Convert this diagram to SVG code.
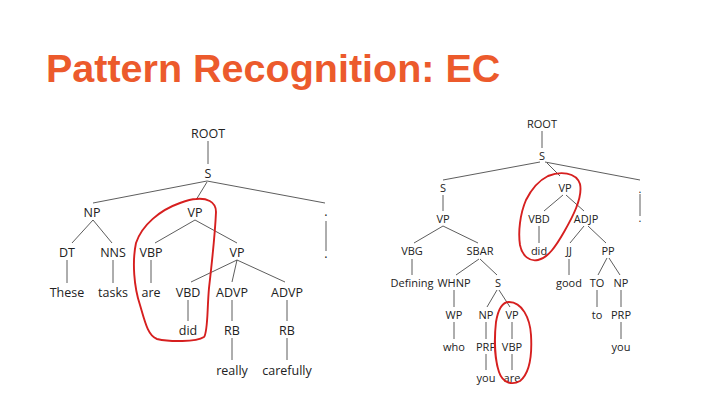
<svg xmlns="http://www.w3.org/2000/svg" width="720" height="405" viewBox="0 0 720 405">
<style>
.t{font-family:"Open Sans","Liberation Sans",sans-serif;font-size:12.5px;fill:#222;text-anchor:middle}
.r{font-family:"Open Sans","Liberation Sans",sans-serif;font-size:11px;fill:#222;text-anchor:middle}
.e line{stroke:#333;stroke-width:0.8}
.f{stroke:#bbb;stroke-width:0.8}
.loop{fill:none;stroke:#d61f1f;stroke-width:1.9;stroke-linejoin:round}
.title{font-family:"Liberation Sans",Arial,sans-serif;font-weight:bold;font-size:39.5px;fill:#ec5a2c}
</style>
<rect width="720" height="405" fill="#fff"/>
<text class="title" x="46" y="82">Pattern Recognition: EC</text>

<g id="connectors" class="e">
<!-- left tree -->
<line x1="208" y1="141" x2="208" y2="164"/>
<line x1="207" y1="181" x2="93" y2="203"/>
<line x1="207" y1="182" x2="196" y2="200"/>
<line x1="207" y1="181" x2="325" y2="203"/>
<line class="f" x1="326" y1="221" x2="326" y2="251"/>
<line x1="93" y1="220" x2="72" y2="243"/>
<line x1="93" y1="220" x2="112" y2="243"/>
<line x1="195" y1="220" x2="155" y2="243"/>
<line x1="195" y1="220" x2="237" y2="243"/>
<line x1="67" y1="260" x2="67" y2="283"/>
<line x1="113" y1="260" x2="113" y2="283"/>
<line x1="151" y1="260" x2="151" y2="283"/>
<line x1="237" y1="260" x2="191" y2="282"/>
<line x1="237" y1="260" x2="232" y2="282"/>
<line x1="237" y1="260" x2="285" y2="282"/>
<line x1="188" y1="300" x2="188" y2="321"/>
<line x1="232" y1="300" x2="232" y2="321"/>
<line x1="287" y1="300" x2="287" y2="321"/>
<line x1="232" y1="338" x2="232" y2="360"/>
<line x1="287" y1="338" x2="287" y2="360"/>
<!-- right tree -->
<line x1="542" y1="131" x2="542" y2="148"/>
<line x1="540" y1="162" x2="443" y2="180"/>
<line x1="547" y1="163" x2="560" y2="176"/>
<line x1="545" y1="162" x2="640" y2="180"/>
<line class="f" x1="640" y1="194" x2="640" y2="216"/>
<line x1="443" y1="195" x2="443" y2="211"/>
<line x1="443" y1="226" x2="414" y2="243"/>
<line x1="443" y1="226" x2="478" y2="243"/>
<line class="f" x1="412" y1="259" x2="412" y2="275"/>
<line x1="479" y1="259" x2="456" y2="275"/>
<line x1="480" y1="259" x2="497" y2="275"/>
<line x1="454" y1="290" x2="454" y2="307"/>
<line x1="454" y1="322" x2="454" y2="339"/>
<line x1="497" y1="290" x2="487" y2="307"/>
<line x1="499" y1="290" x2="510" y2="307"/>
<line class="f" x1="486" y1="322" x2="486" y2="339"/>
<line class="f" x1="486" y1="354" x2="486" y2="370"/>
<line x1="512" y1="322" x2="512" y2="339"/>
<line x1="512" y1="354" x2="512" y2="370"/>
<line x1="563" y1="195" x2="544" y2="211"/>
<line x1="566" y1="195" x2="584" y2="211"/>
<line x1="539" y1="226" x2="539" y2="243"/>
<line x1="584" y1="226" x2="570" y2="243"/>
<line x1="588" y1="226" x2="606" y2="243"/>
<line x1="569" y1="259" x2="569" y2="275"/>
<line x1="607" y1="258" x2="598" y2="275"/>
<line x1="609" y1="258" x2="620" y2="275"/>
<line class="f" x1="597" y1="290" x2="597" y2="307"/>
<line x1="621" y1="290" x2="621" y2="307"/>
<line x1="621" y1="322" x2="621" y2="339"/>
</g>

<g id="left-tree">
<g id="l-root"><text class="t" x="208" y="137.5">ROOT</text></g>
<g id="l-s"><text class="t" x="208" y="177.5">S</text></g>
<g id="l-np"><text class="t" x="92" y="216.5">NP</text></g>
<g id="l-vp"><text class="t" x="195" y="216.5">VP</text></g>
<g id="l-dot1"><text class="t" x="326" y="216">.</text></g>
<g id="l-dot2"><text class="t" x="326" y="258">.</text></g>
<g id="l-dt"><text class="t" x="67" y="256.5">DT</text></g>
<g id="l-nns"><text class="t" x="113" y="256.5">NNS</text></g>
<g id="l-vbp"><text class="t" x="151" y="256.5">VBP</text></g>
<g id="l-vp2"><text class="t" x="237" y="256.5">VP</text></g>
<g id="l-these"><text class="t" x="67" y="296.5">These</text></g>
<g id="l-tasks"><text class="t" x="113" y="296.5">tasks</text></g>
<g id="l-are"><text class="t" x="151" y="296.5">are</text></g>
<g id="l-vbd"><text class="t" x="188" y="296.5">VBD</text></g>
<g id="l-advp1"><text class="t" x="232" y="296.5">ADVP</text></g>
<g id="l-advp2"><text class="t" x="287" y="296.5">ADVP</text></g>
<g id="l-did"><text class="t" x="188" y="334.5">did</text></g>
<g id="l-rb1"><text class="t" x="232" y="334.5">RB</text></g>
<g id="l-rb2"><text class="t" x="287" y="334.5">RB</text></g>
<g id="l-really"><text class="t" x="232" y="374.5">really</text></g>
<g id="l-carefully"><text class="t" x="287" y="374.5">carefully</text></g>
</g>

<g id="right-tree">
<g id="r-root"><text class="r" x="542" y="128">ROOT</text></g>
<g id="r-s"><text class="r" x="542" y="160">S</text></g>
<g id="r-s2"><text class="r" x="443" y="192">S</text></g>
<g id="r-vp"><text class="r" x="565" y="192">VP</text></g>
<g id="r-dot1"><text class="r" x="640" y="193">.</text></g>
<g id="r-dot2"><text class="r" x="640" y="222">.</text></g>
<g id="r-vp2"><text class="r" x="443" y="223">VP</text></g>
<g id="r-vbd"><text class="r" x="539" y="223">VBD</text></g>
<g id="r-adjp"><text class="r" x="586" y="223">ADJP</text></g>
<g id="r-vbg"><text class="r" x="412" y="255">VBG</text></g>
<g id="r-sbar"><text class="r" x="480" y="255">SBAR</text></g>
<g id="r-did"><text class="r" x="539" y="255">did</text></g>
<g id="r-jj"><text class="r" x="569" y="255">JJ</text></g>
<g id="r-pp"><text class="r" x="608" y="255">PP</text></g>
<g id="r-defining"><text class="r" x="412" y="287">Defining</text></g>
<g id="r-whnp"><text class="r" x="454" y="287">WHNP</text></g>
<g id="r-s3"><text class="r" x="498" y="287">S</text></g>
<g id="r-good"><text class="r" x="569" y="287">good</text></g>
<g id="r-to"><text class="r" x="597" y="287">TO</text></g>
<g id="r-np"><text class="r" x="621" y="287">NP</text></g>
<g id="r-wp"><text class="r" x="454" y="319">WP</text></g>
<g id="r-np2"><text class="r" x="486" y="319">NP</text></g>
<g id="r-vp3"><text class="r" x="512" y="319">VP</text></g>
<g id="r-to2"><text class="r" x="597" y="319">to</text></g>
<g id="r-prp"><text class="r" x="621" y="319">PRP</text></g>
<g id="r-who"><text class="r" x="454" y="351">who</text></g>
<g id="r-prp2"><text class="r" x="486" y="351">PRP</text></g>
<g id="r-vbp"><text class="r" x="512" y="351">VBP</text></g>
<g id="r-you2"><text class="r" x="621" y="351">you</text></g>
<g id="r-you"><text class="r" x="486" y="382">you</text></g>
<g id="r-are"><text class="r" x="512" y="382">are</text></g>
</g>

<g id="highlights">
<path class="loop" d="M196,199 C206,198 216,201 216,212 C215,235 212,262 209,288 C207,310 208,332 204,337 C196,342 170,342 157,339 C148,336 145,322 140,305 C134,287 132,262 136,243 C142,225 160,210 180,203 C188,200 192,199 196,199 Z"/>
<path class="loop" d="M548,176 C560,171 576,172 580,184 C583,198 572,218 564,232 C556,246 548,258 538,260 C530,262 522,256 520,245 C518,232 520,214 526,200 C532,188 540,180 548,176 Z"/>
<path class="loop" d="M509,302 C522,302 530,318 531,335 C532,352 531,372 520,381 C513,385 503,384 499,372 C495,360 494,340 496,322 C498,310 502,302 509,302 Z"/>
</g>
</svg>
